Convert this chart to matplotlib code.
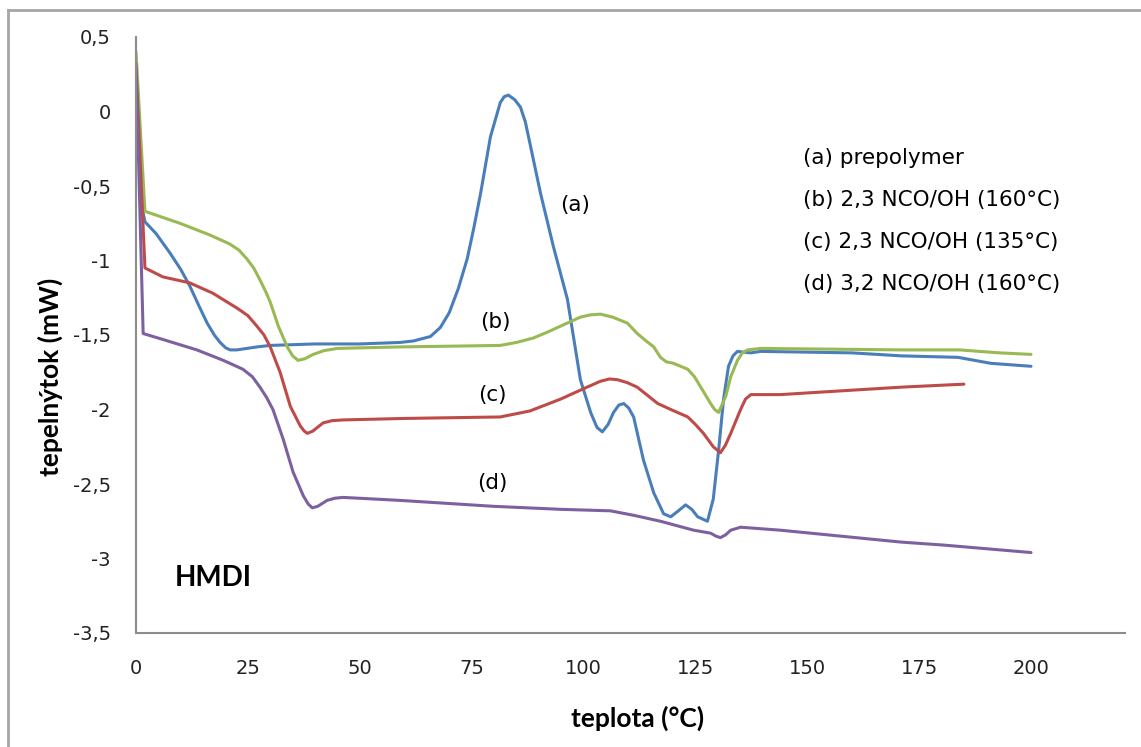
import matplotlib
matplotlib.use("Agg")
import matplotlib.pyplot as plt
from matplotlib.lines import Line2D

# (a) prepolymer - blue
a_x = [0, 1.6, 2, 4.5, 7.6, 10, 12, 14, 15.9, 17.5, 18.8, 20, 21, 22.5, 24.8, 27, 30, 40,
       50, 59, 62, 65.8, 68, 70, 72, 74, 75.5, 77, 79.2, 81.4, 82.3, 83.2, 84.6, 85.9, 87,
       88, 90.4, 93.3, 96.4, 99.3, 101.6, 103, 104.2, 105.5, 106.7, 107.9, 109, 110.1,
       111.2, 113.4, 115.7, 117.9, 119.5, 121.2, 122.8, 124.2, 125.5, 127.7, 129, 130.2,
       131.3, 132.4, 133.4, 134.4, 135.8, 137.4, 139.6, 160, 171, 183.7, 191, 200]
a_y = [0.32, -0.68, -0.74, -0.82, -0.95, -1.06, -1.17, -1.30, -1.42, -1.50, -1.55, -1.585,
       -1.60, -1.60, -1.59, -1.58, -1.57, -1.56, -1.56, -1.55, -1.54, -1.51, -1.45, -1.35,
       -1.19, -0.99, -0.78, -0.55, -0.17, 0.06, 0.10, 0.11, 0.08, 0.03, -0.07, -0.21, -0.55,
       -0.91, -1.26, -1.80, -2.02, -2.12, -2.15, -2.10, -2.02, -1.97, -1.96, -1.99, -2.05,
       -2.34, -2.56, -2.70, -2.72, -2.68, -2.64, -2.67, -2.72, -2.75, -2.60, -2.27, -1.93,
       -1.71, -1.64, -1.61, -1.615, -1.62, -1.61, -1.62, -1.64, -1.65, -1.69, -1.71]

# (b) 2,3 NCO/OH (160°C) - green
b_x = [0, 2, 9.8, 16.6, 21, 23, 24.8, 26.3, 27.7, 29, 30, 31.8, 33.8, 35, 36.2, 37.7, 39.6,
       42, 45, 59, 81.4, 85, 88.8, 92, 94.9, 99.3, 101.5, 103.8, 106.5, 109.8, 112, 114,
       115.7, 117.2, 118.5, 120.1, 123.3, 124.8, 126.2, 128.4, 129.3, 130.2, 131.8, 132.9,
       134.4, 135.5, 136.7, 139.6, 171, 184, 193, 200]
b_y = [0.40, -0.67, -0.75, -0.83, -0.89, -0.93, -0.99, -1.05, -1.13, -1.21, -1.28, -1.44,
       -1.58, -1.64, -1.67, -1.66, -1.63, -1.605, -1.59, -1.58, -1.57, -1.55, -1.52, -1.48,
       -1.44, -1.38, -1.365, -1.36, -1.38, -1.42, -1.49, -1.54, -1.58, -1.65, -1.68, -1.69,
       -1.73, -1.78, -1.85, -1.96, -2.00, -2.02, -1.91, -1.78, -1.67, -1.62, -1.60, -1.59,
       -1.60, -1.60, -1.62, -1.63]

# (c) 2,3 NCO/OH (135°C) - red
c_x = [0, 2, 6, 12, 17.2, 22.6, 25, 27, 28.6, 30, 32.2, 34.5, 36.7, 37.6, 38.3, 39.5, 41.8,
       43.8, 46.3, 60, 81.4, 88, 94.9, 99.3, 103.8, 105.8, 107.6, 109.8, 112, 114.5, 116.6,
       119.5, 123.3, 125, 126.8, 129, 130.6, 131.7, 132.9, 135.1, 136.2, 137.4, 144, 171,
       185]
c_y = [0.30, -1.05, -1.11, -1.15, -1.22, -1.32, -1.37, -1.44, -1.50, -1.58, -1.75, -1.98,
       -2.11, -2.145, -2.16, -2.145, -2.09, -2.075, -2.07, -2.06, -2.05, -2.01, -1.93,
       -1.87, -1.81, -1.795, -1.80, -1.82, -1.85, -1.91, -1.96, -2.00, -2.05, -2.10, -2.16,
       -2.25, -2.29, -2.24, -2.16, -2.00, -1.93, -1.90, -1.90, -1.85, -1.83]

# (d) 3,2 NCO/OH (160°C) - purple
d_x = [0, 1.6, 6, 13.6, 19.5, 23.9, 26, 27.7, 29.2, 30.6, 32.9, 35.1, 37.4, 38.5, 39.4, 40.6,
       42.7, 44.5, 46.3, 59, 80, 94.9, 106, 111.2, 117.2, 124.6, 128.4, 129.6, 130.6, 131.8,
       132.9, 135.1, 144, 171, 180.5, 200]
d_y = [0.32, -1.49, -1.53, -1.60, -1.67, -1.73, -1.78, -1.85, -1.92, -2.00, -2.20, -2.42,
       -2.58, -2.635, -2.66, -2.65, -2.61, -2.595, -2.59, -2.61, -2.65, -2.67, -2.68, -2.71,
       -2.75, -2.81, -2.83, -2.85, -2.86, -2.84, -2.81, -2.79, -2.81, -2.89, -2.91, -2.96]

x_ticks = [0, 25, 50, 75, 100, 125, 150, 175, 200]
y_ticks = [0.5, 0, -0.5, -1, -1.5, -2, -2.5, -3, -3.5]
y_tick_labels = ["0,5", "0", "-0,5", "-1", "-1,5", "-2", "-2,5", "-3", "-3,5"]

legend_lines = ["(a) prepolymer", "(b) 2,3 NCO/OH (160°C)",
                "(c) 2,3 NCO/OH (135°C)", "(d) 3,2 NCO/OH (160°C)"]

W, H = 1141, 747
fig = plt.figure(figsize=(W / 100, H / 100), dpi=100)
ax = fig.add_axes([136 / W, 1 - 633 / H, (1125 - 136) / W, (633 - 37) / H])

style = dict(lw=2.2, solid_joinstyle="round", solid_capstyle="round")
ax.plot(a_x, a_y, color="#4A7EBB", **style)
ax.plot(b_x, b_y, color="#98B954", **style)
ax.plot(c_x, c_y, color="#BE4B48", **style)
ax.plot(d_x, d_y, color="#7D60A0", **style)

ax.set_xlim(0, 221)
ax.set_ylim(-3.5, 0.5)
ax.set_xticks(x_ticks)
ax.set_yticks(y_ticks)
ax.set_yticklabels(y_tick_labels)
ax.tick_params(length=0, labelsize=14, colors="#222222")
ax.tick_params(axis="y", pad=18)
ax.tick_params(axis="x", pad=19)
for s in ["top", "right"]:
    ax.spines[s].set_visible(False)
for s in ["left", "bottom"]:
    ax.spines[s].set_color("#8C8C8C")
    ax.spines[s].set_linewidth(1.5)

# curve labels
ax.text(98.2, -0.63, "(a)", fontsize=15.5, ha="center", va="center")
ax.text(80.3, -1.41, "(b)", fontsize=15.5, ha="center", va="center")
ax.text(79.6, -1.90, "(c)", fontsize=15.5, ha="center", va="center")
ax.text(79.6, -2.49, "(d)", fontsize=15.5, ha="center", va="center")

# legend block as text
for i, t in enumerate(legend_lines):
    fig.text(803 / W, 1 - (158 + i * 42) / H, t, fontsize=15.5, ha="left", va="center")

fig.text(175 / W, 1 - 578 / H, "HMDI", fontsize=20, fontweight="bold",
         family="Lato", ha="left", va="center")
fig.text(638 / W, 1 - 718 / H, "teplota (°C)", fontsize=19, fontweight="bold",
         family="Lato", ha="center", va="center")
fig.text(50 / W, 1 - 377 / H, "tepelnýtok (mW)", fontsize=19, fontweight="bold",
         family="Lato", ha="center", va="center", rotation=90)

# outer frame (top and left edges visible)
fig.add_artist(Line2D([8 / W, 1], [1 - 10 / H, 1 - 10 / H], transform=fig.transFigure,
                      color="#A6A6A6", lw=2))
fig.add_artist(Line2D([8 / W, 8 / W], [0, 1 - 10 / H], transform=fig.transFigure,
                      color="#A6A6A6", lw=2))

fig.savefig("out.png", dpi=100)
